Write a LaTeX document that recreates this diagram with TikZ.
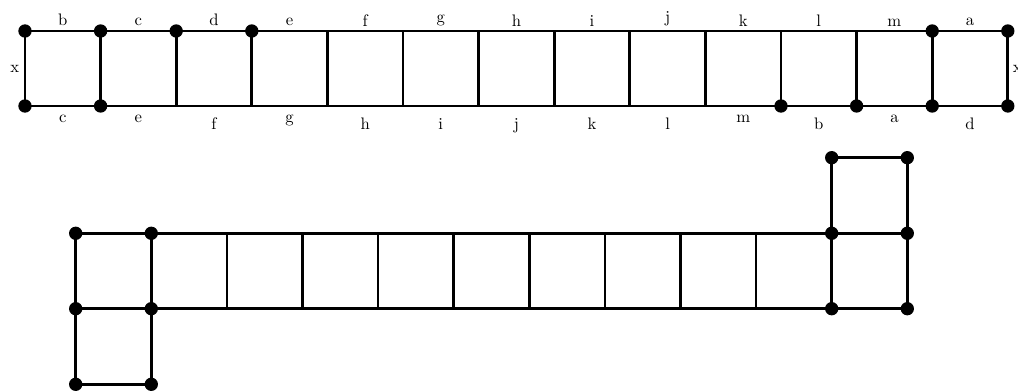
\documentclass[tikz,border=0pt]{standalone}
\usetikzlibrary{calc}
\begin{document}
\begin{tikzpicture}[x=0.6pt,y=-0.6pt,
  edge/.style={line width=1.6pt},
  dot/.style={circle,fill,inner sep=0pt,minimum size=8pt},
  lab/.style={inner sep=0pt}]
\useasboundingbox (0,0) rectangle (1018,392);
% top strip coordinates
\foreach \i in {0,...,13}{
  \coordinate (t\i) at ({25+75.6*\i},31);
  \coordinate (u\i) at ({25+75.6*\i},106);
}
\draw[edge] (t0) -- (t13);
\draw[edge] (u0) -- (u13);
\foreach \i in {0,...,13}{ \draw[edge] (t\i) -- (u\i); }
\foreach \n in {t0,t1,t2,t3,t12,t13,u0,u1,u10,u11,u12,u13}{ \node[dot] (d\n) at (\n) {}; }
% top labels
\foreach \l [count=\i from 0] in {b,c,d,e,f,g,h,i,j,k,l,m,a}{
  \node[lab,anchor=south] (tl\i) at ({62.8+75.6*\i},26.5) {\l};
}
% bottom labels
\foreach \l/\yy [count=\i from 0] in {c/123,e/123,f/130,g/123,h/130,i/130,j/130,k/130,l/130,m/123,b/130,a/123,d/130}{
  \node[lab,anchor=base] (bl\i) at ({62.8+75.6*\i},\yy) {\l};
}
\node[lab,anchor=east] (xl) at (19.5,69) {x};
\node[lab,anchor=west] (xr) at (1012.5,69) {x};
% lower figure coordinates
\foreach \k in {0,...,11}{
  \coordinate (q\k) at ({75.7+75.6*\k},233.3);
  \coordinate (r\k) at ({75.7+75.6*\k},308.7);
}
\coordinate (p10) at ($(q10)+(0,-75.6)$);
\coordinate (p11) at ($(q11)+(0,-75.6)$);
\coordinate (s0) at ($(r0)+(0,75.6)$);
\coordinate (s1) at ($(r1)+(0,75.6)$);
\draw[edge] (q0) -- (q11);
\draw[edge] (r0) -- (r11);
\foreach \k in {0,...,11}{ \draw[edge] (q\k) -- (r\k); }
\draw[edge] (q10) -- (p10) -- (p11) -- (q11);
\draw[edge] (r0) -- (s0) -- (s1) -- (r1);
\foreach \n in {q0,q1,r0,r1,s0,s1,p10,p11,q10,q11,r10,r11}{ \node[dot] (d\n) at (\n) {}; }
\end{tikzpicture}
\end{document}
